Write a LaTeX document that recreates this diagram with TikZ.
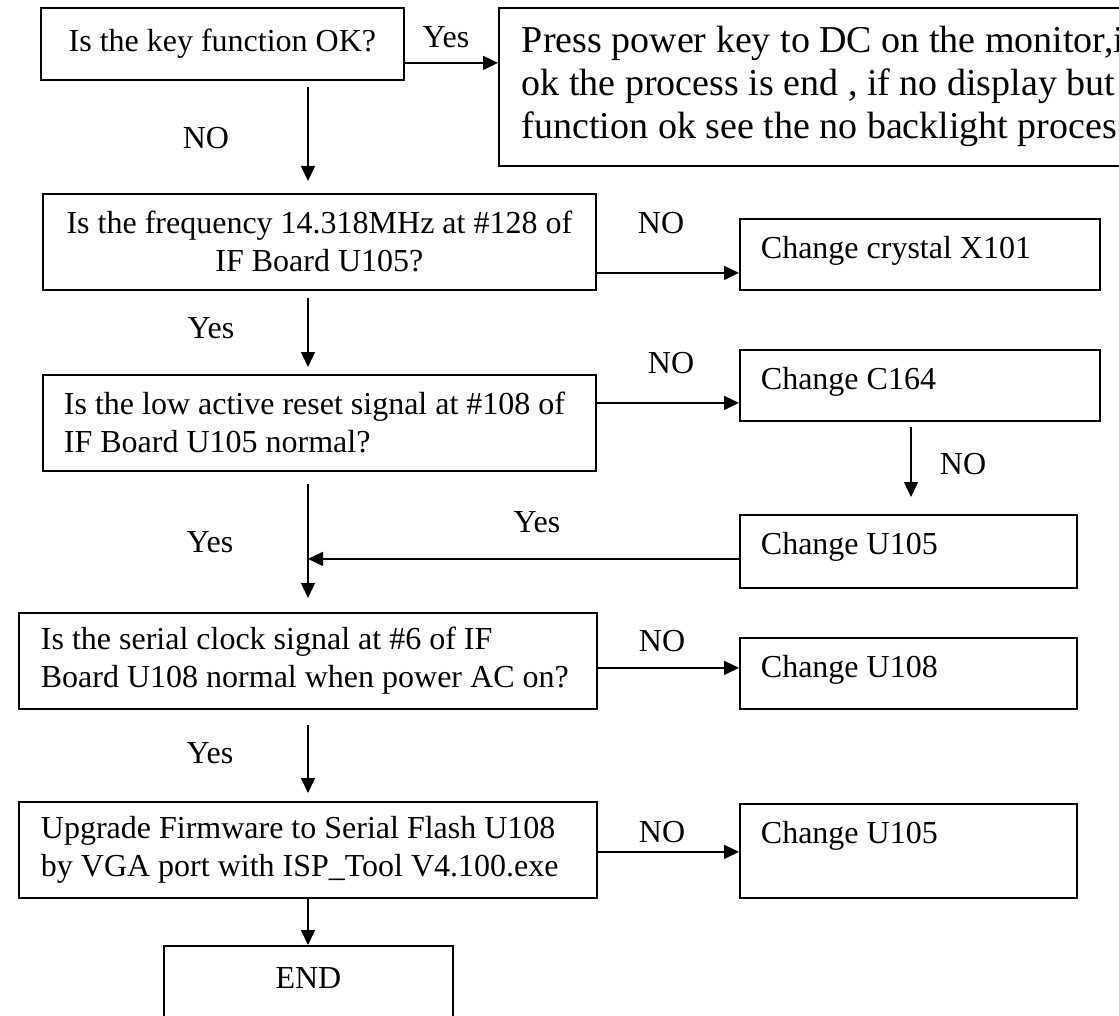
\documentclass[tikz,border=0pt]{standalone}
\usepackage{fontspec}
\setmainfont{Liberation Serif}
\usetikzlibrary{arrows.meta}

\tikzset{
  qbox/.style={draw, line width=0.9pt, anchor=north west, inner sep=0pt, font=\fontsize{16}{19}\selectfont},
  cbox/.style={draw, line width=0.9pt, anchor=north west, inner xsep=10.5pt, inner ysep=9pt, text height=11pt, align=flush left, font=\fontsize{16}{19}\selectfont},
  arr/.style={line width=0.7pt, -{Triangle[length=7.5pt,width=7pt]}},
  lbl/.style={inner sep=0pt, font=\fontsize{16}{19}\selectfont},
}

\begin{document}
\begin{tikzpicture}[x=0.5pt, y=-0.5pt]
\path[use as bounding box, clip] (0,0) rectangle (1119,1016);
% questions on the left
\node[qbox, minimum width=181.5pt, minimum height=36pt] (key) at (40,7) {Is the key function OK?};
\node[qbox, minimum width=276.5pt, minimum height=48pt, align=center] (freq) at (42,193) {Is the frequency 14.318MHz at \#128 of\\IF Board U105?};
\node[qbox, text width=255.5pt, inner xsep=10.5pt, minimum height=48pt, align=flush left] (reset) at (42,374) {Is the low active reset signal at \#108 of\\IF Board U105 normal?};
\node[qbox, text width=267pt, inner xsep=11pt, minimum height=48pt, align=flush left] (serial) at (18,612) {Is the serial clock signal at \#6 of IF\\Board U108 normal when power AC on?};
\node[qbox, text width=267pt, inner xsep=11pt, minimum height=48pt, align=flush left] (flash) at (18,801) {Upgrade Firmware to Serial Flash U108\\by VGA port with ISP\_Tool V4.100.exe};
\node[cbox, text width=123.5pt, align=flush center, inner ysep=10.5pt, text depth=20pt] (end) at (163,945) {END};
% actions on the right
\node[draw, line width=0.9pt, anchor=north west, minimum height=79pt, text width=348pt, inner xsep=11.5pt, align=flush left, font=\fontsize{19}{21.5}\selectfont] (press) at (498,7) {Press power key to DC on the monitor,i\\ok the process is end , if no display but\\function ok see the no backlight proces};
\node[cbox, text width=159pt, text depth=6.5pt] (crystal) at (739,218) {Change crystal X101};
\node[cbox, text width=159pt, text depth=6.5pt] (c164) at (739,349) {Change C164};
\node[cbox, text width=147.5pt, text depth=7.5pt] (u105) at (739,514) {Change U105};
\node[cbox, text width=147.5pt, text depth=6.5pt] (u108) at (739,637) {Change U108};
\node[cbox, text width=147.5pt, text depth=18pt] (u105b) at (739,803) {Change U105};
\coordinate (spine) at (308,0);
\coordinate (ocol) at (911,0);
% down the spine
\draw[arr, shorten <=3pt, shorten >=6pt] (key.south -| spine) -- (freq.north -| spine);
\draw[arr, shorten <=3.5pt, shorten >=3.5pt] (freq.south -| spine) -- (reset.north -| spine);
\draw[arr, shorten <=6pt, shorten >=7pt] (reset.south -| spine) -- (serial.north -| spine);
\draw[arr, shorten <=7.5pt, shorten >=4pt] (serial.south -| spine) -- (flash.north -| spine);
\draw[arr] (flash.south -| spine) -- (end.north -| spine);
% across
\draw[arr] ([yshift=-9.5pt]key.east) -- ([yshift=-9.5pt]key.east -| press.west);
\draw[arr] ([yshift=-15.5pt]freq.east) -- ([yshift=-15.5pt]freq.east -| crystal.west);
\draw[arr] ([yshift=10pt]reset.east) -- ([yshift=10pt]reset.east -| c164.west);
\draw[arr, shorten <=2.5pt, shorten >=8.5pt] (c164.south -| ocol) -- (u105.north -| ocol);
\draw[arr] ([yshift=-3.75pt]u105.west) -- ([yshift=-3.75pt]u105.west -| spine);
\draw[arr] ([yshift=-3.5pt]serial.east) -- ([yshift=-3.5pt]serial.east -| u108.west);
\draw[arr] ([yshift=-1pt]flash.east) -- ([yshift=-1pt]flash.east -| u105b.west);
% labels
\node[lbl] (yes0) at (446,37) {Yes};
\foreach \x/\y [count=\i] in {206/138, 661/223, 671/363, 963/464, 662/641, 662/832} \node[lbl] (no\i) at (\x,\y) {NO};
\foreach \x/\y [count=\i] in {211/328, 210/542, 537/522, 210/753} \node[lbl] (yes\i) at (\x,\y) {Yes};
\end{tikzpicture}
\end{document}
